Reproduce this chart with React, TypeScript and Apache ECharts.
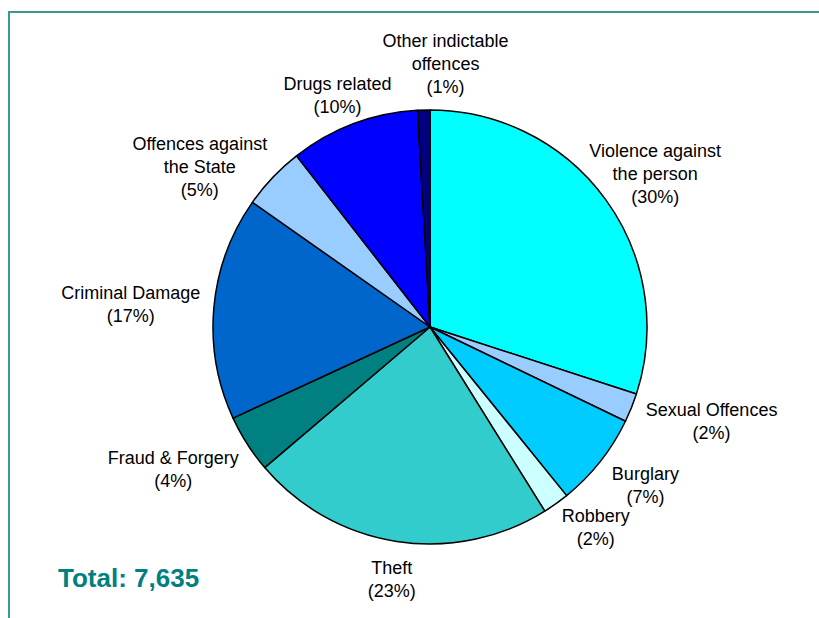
import React, { useEffect, useRef } from 'react';
import * as echarts from 'echarts';

const categories = [
  'Violence against\nthe person',
  'Sexual Offences',
  'Burglary',
  'Robbery',
  'Theft',
  'Fraud & Forgery',
  'Criminal Damage',
  'Offences against\nthe State',
  'Drugs related',
  'Other indictable\noffences',
];
const values = [2290, 165, 535, 150, 1730, 330, 1270, 360, 735, 70];
const colors = [
  '#00FFFF',
  '#99CCFF',
  '#00CCFF',
  '#CCFFFF',
  '#33CCCC',
  '#008080',
  '#0066CC',
  '#99CCFF',
  '#0000FF',
  '#000080',
];
const totalLabel = 'Total: 7,635';

// layout constants (not data)
const CX = 430;
const CY = 327;
const R = 217;
const GAP = 14;
// small per-label nudges (px) to mimic the original placement
const labelNudge: [number, number][] = [
  [-15, 3],
  [6, 0],
  [8, 1],
  [12, -6],
  [1, 2],
  [-7, 6],
  [0, 0],
  [-14, 23],
  [8, 6],
  [24, 2],
];

export default function App() {
  const ref = useRef<HTMLDivElement>(null);
  useEffect(() => {
    if (!ref.current) return;
    const chart = echarts.init(ref.current, undefined, { renderer: 'svg' });
    const total = values.reduce((a, b) => a + b, 0);
    const midAngles: number[] = [];
    let cum = 0;
    values.forEach((v) => {
      midAngles.push(((cum + v / 2) / total) * Math.PI * 2);
      cum += v;
    });
    chart.setOption({
      animation: false,
      backgroundColor: '#ffffff',
      graphic: [
        {
          type: 'line',
          shape: { x1: 8, y1: 12, x2: 819, y2: 12 },
          style: { stroke: '#3a9a8c', lineWidth: 2 },
        },
        {
          type: 'line',
          shape: { x1: 9, y1: 11, x2: 9, y2: 618 },
          style: { stroke: '#3a9a8c', lineWidth: 2 },
        },
        {
          type: 'text',
          x: 58,
          y: 578,
          style: {
            text: totalLabel,
            fill: '#008080',
            fontSize: 26,
            fontWeight: 'bold',
            fontFamily: '"Liberation Sans", Arial, sans-serif',
            verticalAlign: 'middle',
          },
        },
      ],
      series: [
        {
          type: 'pie',
          center: [CX, CY],
          radius: R,
          startAngle: 90,
          clockwise: true,
          avoidLabelOverlap: false,
          data: categories.map((name, i) => ({
            name,
            value: values[i],
            itemStyle: { color: colors[i] },
          })),
          itemStyle: { borderColor: '#000', borderWidth: 1.5 },
          emphasis: { disabled: true },
          label: {
            show: true,
            position: 'outside',
            color: '#000',
            fontSize: 18,
            lineHeight: 23,
            fontFamily: '"Liberation Sans", Arial, sans-serif',
            align: 'center',
            formatter: (p: any) =>
              `${p.name}\n(${Math.round((p.value / total) * 100)}%)`,
          },
          labelLine: { show: false },
          labelLayout: (params: any) => {
            const i = params.dataIndex;
            const a = midAngles[i];
            const ux = Math.sin(a);
            const uy = -Math.cos(a);
            const w = params.labelRect.width / 2;
            const h = params.labelRect.height / 2;
            const [nx, ny] = labelNudge[i];
            return {
              x: CX + ux * (R + GAP) + w * ux + nx,
              y: CY + uy * (R + GAP) + h * uy + ny,
              align: 'center',
              verticalAlign: 'middle',
            };
          },
        },
      ],
    });
    return () => chart.dispose();
  }, []);
  return (
    <div
      ref={ref}
      style={{ position: 'absolute', left: 0, top: 0, width: 819, height: 618 }}
    />
  );
}
